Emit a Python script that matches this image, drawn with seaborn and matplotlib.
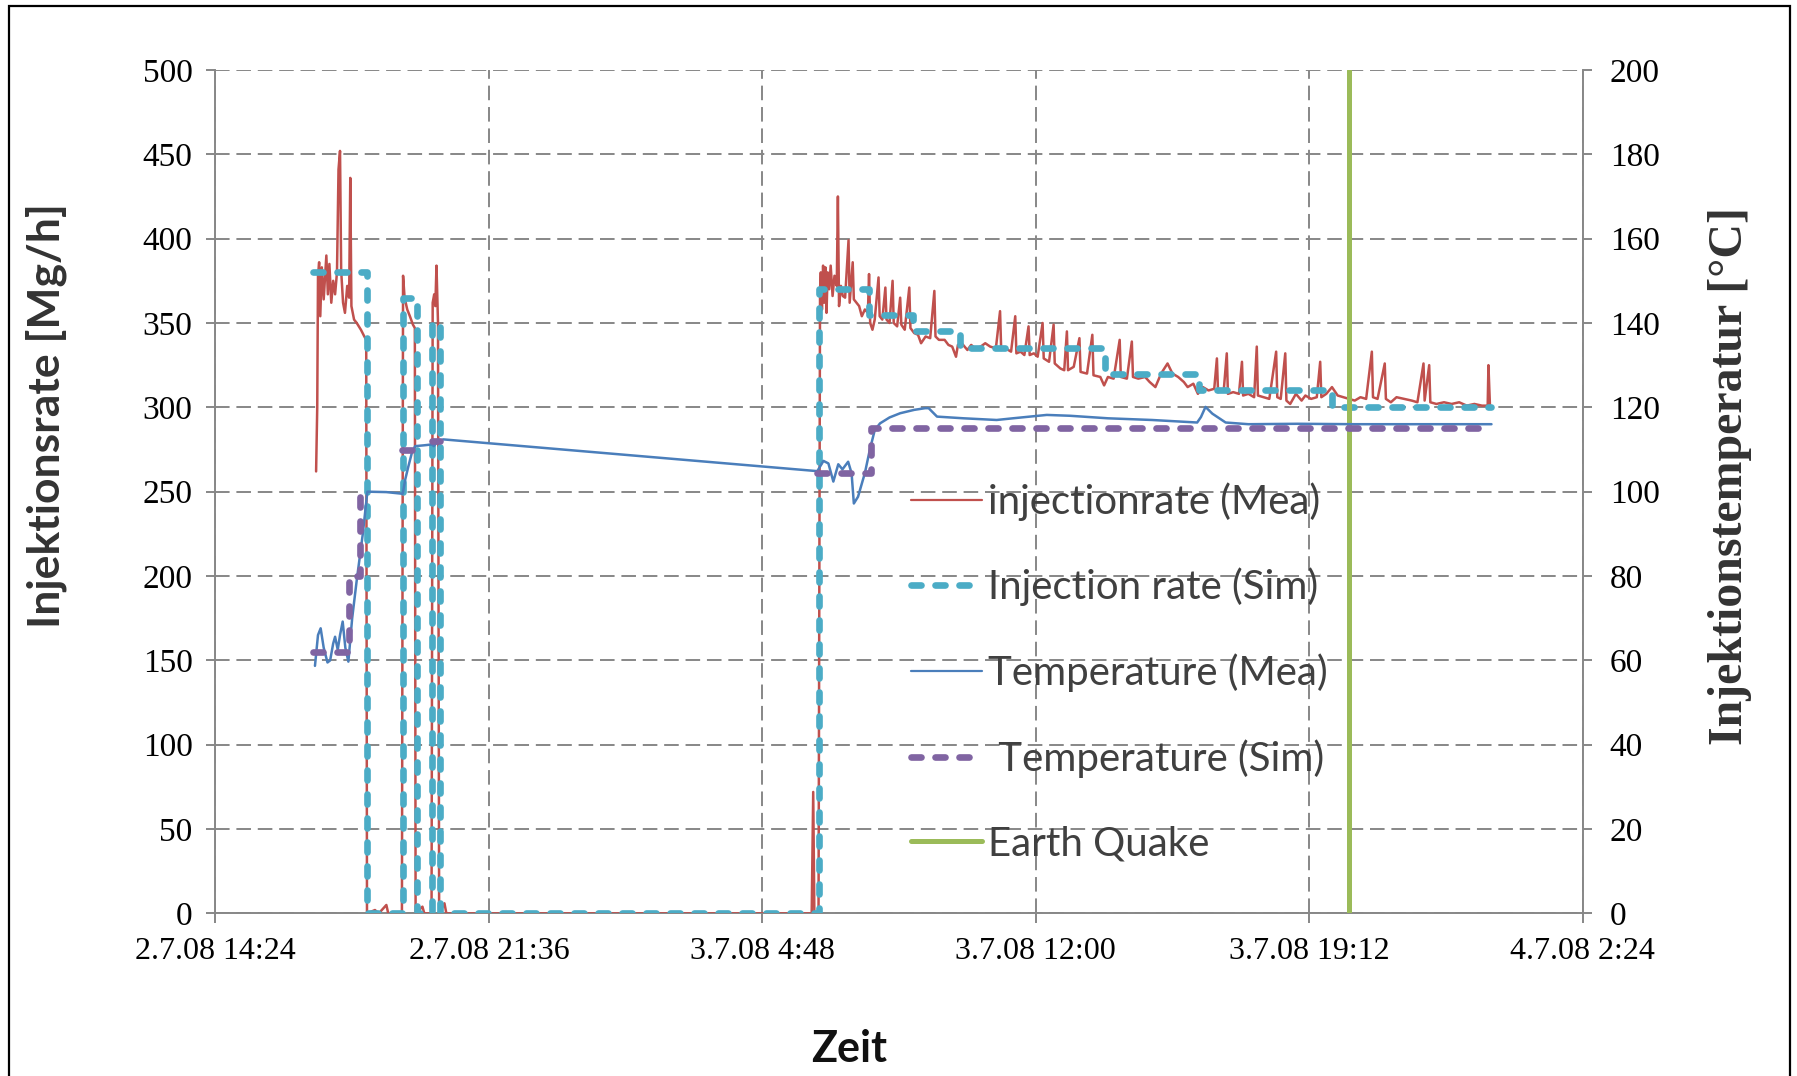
import numpy as np
import pandas as pd
import matplotlib
matplotlib.use("Agg")
import matplotlib.pyplot as plt
import seaborn as sns
from matplotlib.lines import Line2D
from matplotlib.patches import Rectangle

# ---------------- data (time in hours after 2.7.08 14:24) ----------------
x_tick_pos = [0, 7.2, 14.4, 21.6, 28.8, 36.0]
x_tick_labels = ["2.7.08 14:24", "2.7.08 21:36", "3.7.08 4:48",
                 "3.7.08 12:00", "3.7.08 19:12", "4.7.08 2:24"]
rate_ticks = [0, 50, 100, 150, 200, 250, 300, 350, 400, 450, 500]
temp_ticks = [0, 20, 40, 60, 80, 100, 120, 140, 160, 180, 200]

rate_mea_t = [2.65, 2.68, 2.70, 2.73, 2.76, 2.80, 2.85, 2.92, 2.96, 3.00, 3.05, 3.10, 3.15, 3.20,
              3.24, 3.28, 3.31, 3.36, 3.41, 3.47, 3.52, 3.55, 3.58, 3.65, 3.72, 3.83, 3.92, 3.97,
              3.99, 4.20, 4.30, 4.50, 4.55, 4.91, 4.94, 4.98, 5.05, 5.12, 5.20, 5.25, 5.27, 5.45,
              5.50, 5.69, 5.72, 5.76, 5.79, 5.82, 5.86, 5.89, 6.03, 6.08, 15.70, 15.74, 15.77,
              15.88, 15.92, 15.94, 15.97, 16.00, 16.03, 16.06, 16.09, 16.12, 16.16, 16.20, 16.25,
              16.30, 16.36, 16.39, 16.42, 16.47, 16.52, 16.58, 16.67, 16.70, 16.78, 16.81, 16.88,
              16.95, 17.02, 17.10, 17.18, 17.21, 17.24, 17.30, 17.36, 17.46, 17.49, 17.56, 17.64,
              17.67, 17.75, 17.83, 17.86, 17.95, 18.03, 18.06, 18.15, 18.27, 18.30, 18.40, 18.50,
              18.58, 18.70, 18.82, 18.93, 18.96, 19.05, 19.20, 19.30, 19.40, 19.50, 19.55, 19.65,
              19.80, 19.90, 20.00, 20.15, 20.27, 20.40, 20.55, 20.66, 20.69, 20.80, 20.95, 21.06,
              21.09, 21.20, 21.30, 21.41, 21.44, 21.55, 21.65, 21.78, 21.81, 21.95, 22.07, 22.10,
              22.25, 22.35, 22.42, 22.45, 22.60, 22.75, 22.78, 22.95, 23.09, 23.12, 23.30, 23.40,
              23.50, 23.65, 23.81, 23.84, 24.00, 24.13, 24.16, 24.30, 24.48, 24.60, 24.75, 24.90,
              25.07, 25.20, 25.35, 25.50, 25.60, 25.75, 25.87, 26.00, 26.15, 26.30, 26.37, 26.40,
              26.55, 26.63, 26.66, 26.80, 26.95, 27.03, 27.06, 27.20, 27.35, 27.42, 27.45, 27.60,
              27.75, 27.93, 27.96, 28.05, 28.17, 28.20, 28.30, 28.45, 28.60, 28.70, 28.85, 29.00,
              29.09, 29.12, 29.25, 29.40, 29.55, 29.70, 29.85, 30.00, 30.15, 30.30, 30.45, 30.48,
              30.60, 30.79, 30.82, 30.95, 31.10, 31.30, 31.50, 31.65, 31.81, 31.84, 31.96, 31.99,
              32.15, 32.35, 32.55, 32.75, 32.95, 33.15, 33.35, 33.50, 33.52, 33.56]
rate_mea_v = [262, 300, 378, 386, 354, 383, 364, 390, 367, 385, 362, 375, 367, 380,
              441, 452, 381, 362, 356, 372, 365, 436, 360, 352, 350, 346, 342, 340,
              0, 2, 0, 5, 0, 0, 378, 365, 358, 354, 349, 347, 0, 4,
              0, 0, 362, 367, 360, 384, 350, 0, 6, 0, 0, 72, 0,
              0, 370, 380, 358, 384, 362, 383, 356, 380, 370, 384, 366,
              378, 372, 425, 360, 372, 366, 365, 399, 362, 386, 364, 362,
              360, 354, 358, 356, 379, 350, 346, 352, 377, 354, 352, 371,
              352, 350, 375, 350, 348, 365, 349, 346, 371, 347, 344, 343,
              338, 342, 341, 369, 342, 340, 340, 337, 336, 330, 337, 338,
              334, 337, 335, 336, 338, 336, 335, 357, 334, 335, 333, 354,
              332, 333, 331, 348, 331, 332, 330, 350, 329, 327, 349, 326,
              323, 322, 345, 322, 324, 341, 321, 320, 343, 319, 318, 313,
              318, 317, 340, 318, 317, 339, 318, 317, 318, 315, 312, 320,
              326, 320, 318, 315, 312, 314, 308, 312, 310, 311, 329, 309,
              310, 332, 308, 309, 308, 327, 307, 308, 306, 336, 307, 306,
              305, 333, 306, 305, 332, 304, 302, 308, 304, 307, 305, 306,
              327, 306, 308, 312, 307, 306, 305, 304, 306, 305, 333, 306,
              305, 326, 305, 303, 306, 305, 304, 303, 326, 304, 325, 303,
              302, 303, 302, 303, 301, 302, 301, 301, 325, 301]

rate_sim_t = [2.58, 4.00, 4.00, 4.93, 4.93, 5.30, 5.30, 5.70, 5.70, 5.91, 5.91, 15.90,
              15.90, 17.20, 17.20, 18.38, 18.38, 19.61, 19.61, 23.43, 23.43, 25.89, 25.89,
              29.40, 29.40, 33.60]
rate_sim_v = [380, 380, 0, 0, 365, 365, 0, 0, 350, 350, 0, 0,
              370, 370, 355, 355, 345, 345, 335, 335, 320, 320, 310,
              310, 300, 300]

temp_mea_t = [2.62, 2.70, 2.77, 2.85, 2.95, 3.02, 3.10, 3.15, 3.22, 3.28, 3.35, 3.42, 3.50,
              3.60, 3.72, 3.88, 4.00, 4.50, 4.93, 5.00, 5.08, 5.18, 5.26, 5.50, 5.70, 5.75,
              5.85, 6.00, 15.81, 15.85, 16.01, 16.14, 16.27, 16.40, 16.51, 16.66, 16.75, 16.81,
              16.92, 17.10, 17.23, 17.36, 17.50, 17.75, 18.03, 18.40, 18.69, 18.78, 19.00, 19.70,
              20.57, 21.00, 21.89, 22.50, 23.50, 24.66, 25.85, 25.95, 26.07, 26.25, 26.60, 27.20,
              28.50, 30.00, 31.50, 33.60]
temp_mea_v = [58.7, 66.0, 67.6, 63.0, 59.5, 60.0, 64.0, 65.6, 62.5, 66.0, 69.2, 63.0, 59.7,
              70.0, 79.0, 90.0, 100.0, 99.9, 99.5, 103.0, 106.0, 109.5, 110.8, 111.0, 111.2, 110.8,
              112.0, 112.4, 104.9, 104.9, 107.3, 106.7, 102.4, 106.5, 105.3, 107.1, 104.4, 97.2,
              98.8, 104.4, 109.9, 114.6, 116.2, 117.6, 118.6, 119.4, 119.8, 119.8, 117.8, 117.4,
              117.0, 117.4, 118.2, 118.0, 117.4, 117.0, 116.4, 117.7, 120.1, 118.5, 116.4, 116.0,
              116.1, 116.0, 116.0, 116.0]

temp_sim_seg = [0, 0, 0, 0, 0, 0, 1, 1, 2, 2, 3, 3, 3, 3]
temp_sim_t = [2.58, 3.52, 3.52, 3.81, 3.81, 4.00, 4.90, 5.30, 5.70, 5.91, 15.84, 17.26, 17.26, 33.60]
temp_sim_v = [62, 62, 80, 80, 100, 100, 110, 110, 112, 112, 104.4, 104.4, 115, 115]

quake_t = 29.86

labels = ["injectionrate (Mea)", "Injection rate (Sim)", "Temperature (Mea)",
          " Temperature (Sim)", "Earth Quake"]

# ---------------- styles ----------------
C_RED = "#C0504D"
C_CYAN = "#4BACC6"
C_BLUE = "#4A7EBB"
C_PURPLE = "#8064A2"
C_GREEN = "#9BBB59"
C_GRID = "#878787"
DASH = (0, (1.5, 2.1))
LW_DASH = 4.8

sns.set_theme(style="white")
plt.rcParams["font.family"] = ["Liberation Serif", "DejaVu Serif"]

fig = plt.figure(figsize=(17.97, 10.76), dpi=100)
ax = fig.add_axes([0.1199, 0.1511, 0.7608, 0.7839])
ax2 = ax.twinx()

df_rm = pd.DataFrame({"t": rate_mea_t, "v": rate_mea_v})
df_rs = pd.DataFrame({"t": rate_sim_t, "v": rate_sim_v})
df_tm = pd.DataFrame({"t": temp_mea_t, "v": temp_mea_v})
df_ts = pd.DataFrame({"t": temp_sim_t, "v": temp_sim_v, "seg": temp_sim_seg})

sns.lineplot(data=df_rm, x="t", y="v", ax=ax, estimator=None, sort=False,
             color=C_RED, lw=1.8, zorder=3)
sns.lineplot(data=df_rs, x="t", y="v", ax=ax, estimator=None, sort=False,
             color=C_CYAN, lw=LW_DASH, linestyle=DASH, dash_capstyle="round", zorder=4)
ax.axvline(quake_t, color=C_GREEN, lw=3.6, zorder=5)

sns.lineplot(data=df_tm, x="t", y="v", ax=ax2, estimator=None, sort=False,
             color=C_BLUE, lw=1.8, zorder=3)
sns.lineplot(data=df_ts, x="t", y="v", units="seg", ax=ax2, estimator=None, sort=False,
             color=C_PURPLE, lw=LW_DASH, linestyle=DASH, dash_capstyle="round", zorder=4)

# ---------------- axes ----------------
ax.set_xlim(0, 36)
ax.set_ylim(0, 500)
ax2.set_ylim(0, 200)
ax.set_xticks(x_tick_pos)
ax.set_xticklabels(x_tick_labels)
ax.set_yticks(rate_ticks)
ax2.set_yticks(temp_ticks)
ax.set_xlabel("")
ax.set_ylabel("")
ax2.set_ylabel("")

ax.grid(True, color=C_GRID, lw=1.4, linestyle=(0, (7.5, 3.5)))
ax2.grid(False)
ax.set_axisbelow(True)
ax2.patch.set_visible(False)

for a in (ax, ax2):
    for s in a.spines.values():
        s.set_visible(False)
ax.spines["left"].set_visible(True)
ax.spines["bottom"].set_visible(True)
ax2.spines["right"].set_visible(True)
for s in (ax.spines["left"], ax.spines["bottom"], ax2.spines["right"]):
    s.set_color(C_GRID)
    s.set_linewidth(1.4)

ax.tick_params(axis="y", which="major", left=True, direction="out", length=6.5, width=1.4,
               color=C_GRID, labelsize=24, labelcolor="black", pad=10)
ax.tick_params(axis="x", which="major", bottom=True, direction="out", length=7, width=1.4,
               color=C_GRID, labelsize=23, labelcolor="black", pad=10)
ax2.tick_params(axis="y", which="major", right=True, direction="out", length=6.5, width=1.4,
                color=C_GRID, labelsize=24, labelcolor="black", pad=13)

# ---------------- labels ----------------
fig.text(46 / 1797, 1 - 416 / 1076, "Injektionsrate [Mg/h]", rotation=90,
         ha="center", va="center", fontsize=32, fontweight="bold",
         family=["Lato", "DejaVu Sans"], color="#333333")
fig.text(1730 / 1797, 1 - 476 / 1076, "Injektionstemperatur [°C]", rotation=90,
         ha="center", va="center", fontsize=34.5, fontweight="bold",
         family=["Liberation Serif", "DejaVu Serif"], color="#333333")
fig.text(849 / 1797, 1 - 1049 / 1076, "Zeit", ha="center", va="center",
         fontsize=31, fontweight="bold", family=["Lato", "DejaVu Sans"], color="#111111")

# ---------------- legend ----------------
handles = [
    Line2D([], [], color=C_RED, lw=1.6),
    Line2D([], [], color=C_CYAN, lw=LW_DASH, linestyle=DASH, dash_capstyle="round"),
    Line2D([], [], color=C_BLUE, lw=1.6),
    Line2D([], [], color=C_PURPLE, lw=LW_DASH, linestyle=DASH, dash_capstyle="round"),
    Line2D([], [], color=C_GREEN, lw=3.6),
]
leg = ax2.legend(handles, labels, loc="upper left", bbox_to_anchor=(911 / 1797, 1 - 482 / 1076),
                 bbox_transform=fig.transFigure, frameon=False, borderpad=0, borderaxespad=0,
                 handlelength=1.76, handletextpad=0.15, labelspacing=1.17,
                 prop={"family": ["Lato", "DejaVu Sans"], "size": 29})
for t in leg.get_texts():
    t.set_color("#404040")

# ---------------- outer frame ----------------
fig.patches.append(Rectangle((9 / 1797, -0.05), (1790 - 9) / 1797, 1.05 - 6 / 1076,
                             transform=fig.transFigure, fill=False, edgecolor="black",
                             lw=1.6, clip_on=False))

fig.savefig("out.png", dpi=100)
